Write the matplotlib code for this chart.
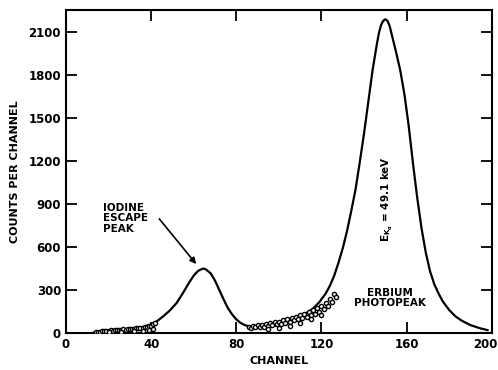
import matplotlib
matplotlib.use('Agg')
import matplotlib.pyplot as plt
from matplotlib.transforms import ScaledTranslation

# spectrum curve (channel, counts per channel)
chan = [13, 15, 18, 22, 26, 30, 34, 37, 40, 43, 46, 49, 52, 55, 58, 60, 62, 64, 65, 66,
        68, 70, 72, 74, 76, 78, 80, 82, 84, 86, 88, 90, 93, 96, 100, 104, 108, 112, 116, 119,
        122, 124, 126, 128, 130, 132, 134, 136, 138, 140, 142, 144, 146, 147, 148, 149, 150, 151,
        152, 153, 155, 157, 159, 161, 163, 165, 167, 169, 171, 173, 175, 177, 180, 183, 186,
        190, 194, 198]
counts = [3, 8, 14, 20, 25, 30, 36, 45, 60, 85, 120, 160, 210, 280, 355, 400, 432, 447, 448, 440,
          415, 365, 300, 235, 175, 130, 95, 70, 55, 46, 40, 38, 39, 44, 55, 75, 100, 130, 170, 215,
          275, 330, 400, 490, 590, 710, 850, 1000, 1190, 1390, 1610, 1830, 2010, 2090, 2145, 2175, 2185, 2175,
          2140, 2080, 1960, 1830, 1660, 1440, 1180, 940, 730, 560, 430, 340, 275, 220, 160, 115, 85,
          55, 35, 20]

# measured points (open circles)
pts_chan = [14, 15, 16, 17, 18, 19, 20, 21, 22, 23, 24, 25, 26, 27, 28, 29, 30, 31, 32, 33,
            34, 35, 36, 37, 38, 39, 40, 41, 42, 20, 26, 32, 36, 39, 41,
            86, 87, 88, 89, 90, 91, 92, 93, 94, 95, 96, 97, 98, 99, 100, 101, 102, 103, 104,
            105, 106, 107, 108, 109, 110, 111, 112, 113, 114, 115, 116, 117, 118, 119, 120, 121,
            122, 123, 124, 125, 126, 127, 95, 100, 105, 110, 115, 120]
pts_counts = [6, 10, 8, 13, 11, 16, 14, 19, 17, 22, 19, 24, 21, 26, 23, 28, 26, 31, 28, 34,
              32, 38, 36, 44, 42, 52, 50, 62, 72, 6, 10, 12, 15, 20, 30,
              45, 38, 52, 42, 55, 40, 58, 45, 62, 50, 68, 55, 74, 60, 80, 66, 88, 72, 95,
              80, 104, 88, 114, 95, 124, 104, 134, 112, 146, 122, 158, 134, 172, 148, 190, 164,
              212, 186, 240, 214, 275, 250, 25, 35, 50, 70, 95, 125]

xticks = [0, 40, 80, 120, 160, 200]
yticks = [0, 300, 600, 900, 1200, 1500, 1800, 2100]

fig = plt.figure(figsize=(4.98, 3.70), dpi=100)
ax = fig.add_axes([0.1325, 0.1, 0.855, 0.873])

ax.plot(chan, counts, color='black', lw=1.6)
ax.scatter(pts_chan, pts_counts, s=9, facecolors='white', edgecolors='black', linewidths=1.0, zorder=3)

ax.set_xlim(0, 200)
ax.set_ylim(0, 2250)
ax.set_xticks(xticks)
ax.set_yticks(yticks)
ax.tick_params(direction='in', length=8, width=1.3, top=True, right=True, labelsize=8.5)
for lab in ax.get_xticklabels() + ax.get_yticklabels():
    lab.set_fontweight('bold')
# last x label sits at the very edge, nudge it in a bit
last = ax.get_xticklabels()[-1]
last.set_transform(last.get_transform() + ScaledTranslation(-5 / 72, 0, fig.dpi_scale_trans))
for s in ax.spines.values():
    s.set_linewidth(1.5)

ax.set_xlabel('CHANNEL', fontsize=8, fontweight='bold', labelpad=4)
ax.set_ylabel('COUNTS PER CHANNEL', fontsize=8, fontweight='bold', labelpad=6)

ax.text(17.5, 800, 'IODINE\nESCAPE\nPEAK', fontsize=7.5, fontweight='bold',
        ha='left', va='center', linespacing=1.05)
ax.annotate('', xy=(62, 465), xytext=(43, 810),
            arrowprops=dict(arrowstyle='-|>', color='black', lw=1.2, mutation_scale=9))
ax.text(152, 245, 'ERBIUM\nPHOTOPEAK', fontsize=7.5, fontweight='bold',
        ha='center', va='center', linespacing=1.05)
ax.text(151, 930, r'$\mathbf{E_{K_\alpha}}$ = 49.1 keV', fontsize=7.5, fontweight='bold',
        rotation=90, ha='center', va='center')

fig.savefig('out.png', dpi=100)
